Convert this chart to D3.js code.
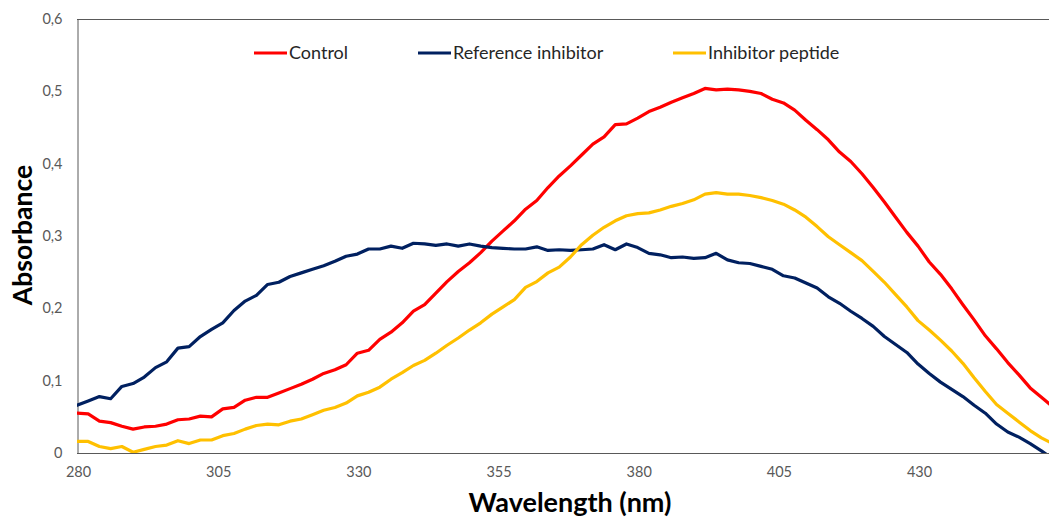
<!DOCTYPE html>
<html>
<head>
<meta charset="utf-8">
<script src="https://cdn.jsdelivr.net/npm/d3@7"></script>
<style>
  html, body { margin: 0; padding: 0; background: #fff; }
  svg { display: block; }
  text { font-family: Lato, "Open Sans", sans-serif; }
</style>
</head>
<body>
<svg id="chart" width="1049" height="518"></svg>
<script>
// ---- Data ----
const wavelengths = d3.range(280, 455, 2); // 280, 282, ..., 454 nm

const controlAbs = [
  0.055, 0.054, 0.044, 0.042, 0.037, 0.033, 0.036, 0.037, 0.040, 0.046,
  0.047, 0.051, 0.050, 0.061, 0.063, 0.073, 0.077, 0.077, 0.083, 0.089,
  0.095, 0.102, 0.110, 0.115, 0.122, 0.138, 0.142, 0.157, 0.167, 0.180,
  0.196, 0.205, 0.221, 0.237, 0.251, 0.263, 0.277, 0.293, 0.307, 0.321,
  0.337, 0.349, 0.367, 0.383, 0.397, 0.412, 0.427, 0.437, 0.454, 0.455,
  0.463, 0.472, 0.478, 0.485, 0.491, 0.497, 0.504, 0.502, 0.503, 0.502,
  0.500, 0.497, 0.489, 0.484, 0.474, 0.460, 0.447, 0.433, 0.416, 0.403,
  0.386, 0.367, 0.347, 0.326, 0.305, 0.286, 0.264, 0.247, 0.227, 0.205,
  0.184, 0.162, 0.144, 0.125, 0.108, 0.090, 0.077, 0.064
];

const referenceAbs = [
  0.066, 0.072, 0.078, 0.075, 0.092, 0.096, 0.105, 0.118, 0.126, 0.145,
  0.147, 0.161, 0.171, 0.180, 0.197, 0.210, 0.218, 0.233, 0.236, 0.244,
  0.249, 0.254, 0.259, 0.265, 0.272, 0.275, 0.282, 0.282, 0.286, 0.283,
  0.290, 0.289, 0.287, 0.289, 0.286, 0.289, 0.286, 0.284, 0.283, 0.282,
  0.282, 0.285, 0.280, 0.281, 0.280, 0.281, 0.282, 0.288, 0.281, 0.289,
  0.284, 0.276, 0.274, 0.270, 0.271, 0.269, 0.270, 0.276, 0.267, 0.263,
  0.262, 0.258, 0.254, 0.245, 0.242, 0.235, 0.228, 0.216, 0.207, 0.196,
  0.186, 0.175, 0.161, 0.150, 0.139, 0.123, 0.110, 0.098, 0.088, 0.078,
  0.066, 0.055, 0.040, 0.029, 0.022, 0.013, 0.003, -0.008
];

const peptideAbs = [
  0.016, 0.016, 0.009, 0.006, 0.009, 0.001, 0.005, 0.009, 0.011, 0.017,
  0.013, 0.018, 0.018, 0.024, 0.027, 0.033, 0.038, 0.040, 0.039, 0.044,
  0.047, 0.053, 0.059, 0.063, 0.069, 0.079, 0.084, 0.091, 0.102, 0.111,
  0.121, 0.128, 0.138, 0.149, 0.159, 0.170, 0.180, 0.192, 0.202, 0.212,
  0.229, 0.237, 0.249, 0.257, 0.271, 0.288, 0.301, 0.312, 0.321, 0.328,
  0.331, 0.332, 0.336, 0.341, 0.345, 0.350, 0.358, 0.360, 0.358, 0.358,
  0.356, 0.353, 0.349, 0.344, 0.336, 0.326, 0.313, 0.299, 0.288, 0.277,
  0.266, 0.251, 0.236, 0.219, 0.202, 0.183, 0.170, 0.156, 0.141, 0.124,
  0.104, 0.085, 0.067, 0.055, 0.043, 0.031, 0.021, 0.013
];

const seriesNames = ["Control", "Reference inhibitor", "Inhibitor peptide"];
const seriesColors = ["#FF0000", "#002060", "#FFC000"];
const xTicks = [280, 305, 330, 355, 380, 405, 430];
const yTicks = [0, 0.1, 0.2, 0.3, 0.4, 0.5, 0.6];
const xTitle = "Wavelength (nm)";
const yTitle = "Absorbance";

// ---- Layout ----
const svg = d3.select("#chart");
const plot = { left: 77, top: 19, bottom: 453 };
const pxPerNm = 5.607;

const x = d3.scaleLinear()
  .domain([280, 455])
  .range([plot.left, plot.left + 175 * pxPerNm]);
const y = d3.scaleLinear()
  .domain([0, 0.6])
  .range([plot.bottom, plot.top]);

const fmt = v => d3.format(".1~f")(v).replace(".", ",");

// clip region for the plot area
svg.append("defs").append("clipPath").attr("id", "plotclip")
  .append("rect")
  .attr("x", plot.left).attr("y", plot.top)
  .attr("width", 1049 - plot.left).attr("height", plot.bottom - plot.top);

// frame top line
svg.append("line")
  .attr("x1", plot.left).attr("x2", 1049)
  .attr("y1", plot.top + 0.5).attr("y2", plot.top + 0.5)
  .attr("stroke", "#595959").attr("stroke-width", 1);

// y axis
const yAxis = svg.append("g")
  .attr("transform", `translate(${plot.left + 0.5},0)`)
  .call(d3.axisLeft(y).tickValues(yTicks).tickFormat(fmt).tickSize(0).tickPadding(15));
yAxis.select(".domain").attr("stroke", "#595959");
yAxis.selectAll("text")
  .attr("fill", "#595959").style("font-size", "14.5px").style("font-family", "Lato, 'Open Sans', sans-serif");

// x axis
const xAxis = svg.append("g")
  .attr("transform", `translate(0,${plot.bottom + 0.5})`)
  .call(d3.axisBottom(x).tickValues(xTicks).tickFormat(d3.format("d")).tickSize(0).tickPadding(13));
xAxis.select(".domain").attr("stroke", "#595959").attr("d", `M${plot.left},0H1049`);
xAxis.selectAll("text")
  .attr("fill", "#595959").style("font-size", "14.5px").style("font-family", "Lato, 'Open Sans', sans-serif")
  .attr("dx", "1");

// lines
const allSeries = [controlAbs, referenceAbs, peptideAbs];
const line = d3.line()
  .x((d, i) => x(wavelengths[i]))
  .y(d => y(d));

const lineG = svg.append("g").attr("clip-path", "url(#plotclip)");
allSeries.forEach((vals, k) => {
  lineG.append("path")
    .datum(vals)
    .attr("d", line)
    .attr("fill", "none")
    .attr("stroke", seriesColors[k])
    .attr("stroke-width", 3.2)
    .attr("stroke-linejoin", "round")
    .attr("stroke-linecap", "round");
});

// legend
const legendX = [254, 418, 673];
const legendY = 53;
seriesNames.forEach((name, k) => {
  const g = svg.append("g").attr("transform", `translate(${legendX[k]},${legendY})`);
  g.append("line")
    .attr("x1", 0).attr("x2", 33).attr("y1", 0).attr("y2", 0)
    .attr("stroke", seriesColors[k]).attr("stroke-width", 3.2);
  g.append("text")
    .attr("x", 35).attr("y", 0).attr("dy", "0.35em")
    .attr("fill", "#262626")
    .style("font-size", "18px")
    .text(name);
});

// axis titles
svg.append("text")
  .attr("x", 570).attr("y", 503).attr("dy", "0.35em")
  .attr("text-anchor", "middle")
  .attr("fill", "#000")
  .style("font-size", "27px").style("font-weight", "bold")
  .text(xTitle);

svg.append("text")
  .attr("transform", "translate(23,235) rotate(-90)")
  .attr("dy", "0.35em")
  .attr("text-anchor", "middle")
  .attr("fill", "#000")
  .style("font-size", "26.5px").style("font-weight", "bold")
  .text(yTitle);
</script>
</body>
</html>
